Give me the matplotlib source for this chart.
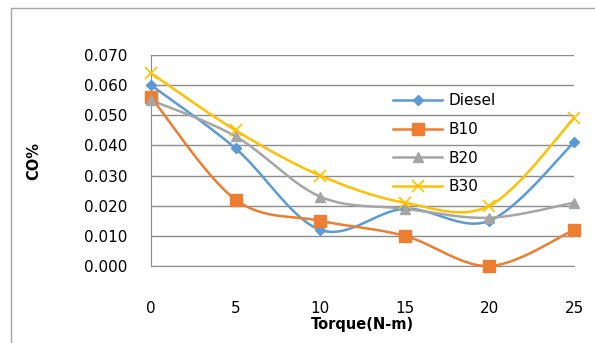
import matplotlib.pyplot as plt
import numpy as np
from matplotlib.patches import Rectangle

torque = [0, 5, 10, 15, 20, 25]
diesel = [0.060, 0.039, 0.012, 0.019, 0.015, 0.041]
b10 = [0.056, 0.022, 0.015, 0.010, 0.000, 0.012]
b20 = [0.055, 0.043, 0.023, 0.019, 0.016, 0.021]
b30 = [0.064, 0.045, 0.030, 0.021, 0.020, 0.049]
yticks = [0.0, 0.01, 0.02, 0.03, 0.04, 0.05, 0.06, 0.07]


def smooth(x, y, n=30):
    # excel-like smoothed line: bezier segments with catmull-rom tangents
    x = np.asarray(x, float)
    y = np.asarray(y, float)
    xs, ys = [], []
    for i in range(len(x) - 1):
        p0 = (x[max(i - 1, 0)], y[max(i - 1, 0)])
        p1 = (x[i], y[i])
        p2 = (x[i + 1], y[i + 1])
        p3 = (x[min(i + 2, len(x) - 1)], y[min(i + 2, len(x) - 1)])
        c1 = (p1[0] + (p2[0] - p0[0]) / 6, p1[1] + (p2[1] - p0[1]) / 6)
        c2 = (p2[0] - (p3[0] - p1[0]) / 6, p2[1] - (p3[1] - p1[1]) / 6)
        t = np.linspace(0, 1, n)
        for k in range(2):
            b = ((1 - t) ** 3 * p1[k] + 3 * (1 - t) ** 2 * t * c1[k]
                 + 3 * (1 - t) * t ** 2 * c2[k] + t ** 3 * p2[k])
            (xs if k == 0 else ys).append(b)
    return np.concatenate(xs), np.concatenate(ys)


fig = plt.figure(figsize=(5.95, 3.43), dpi=100)
fig.patches.append(Rectangle((11 / 595, -0.1), 1.2, 1 - 8 / 343 + 0.1,
                             transform=fig.transFigure, fill=False,
                             edgecolor="#a6a6a6", linewidth=1))
ax = fig.add_axes([151 / 595, 1 - 266 / 343, 423 / 595, 211 / 343])

series = [
    ("Diesel", diesel, "#5b9bd5", "D", 5, 1),
    ("B10", b10, "#ed7d31", "s", 8, 1),
    ("B20", b20, "#a5a5a5", "^", 7, 1),
    ("B30", b30, "#ffc000", "x", 8, 1.2),
]
for name, vals, col, mk, ms, mew in series:
    sx, sy = smooth(torque, vals)
    ax.plot(sx, sy, color=col, linewidth=1.8, clip_on=False, zorder=3)
    ax.plot(torque, vals, linestyle="none", marker=mk, markersize=ms,
            color=col, markeredgewidth=mew, clip_on=False, zorder=4)
    ax.plot([], [], color=col, linewidth=1.8, marker=mk, markersize=ms,
            markeredgewidth=mew, label=name)

ax.set_xlim(0, 25)
ax.set_ylim(0, 0.07)
ax.set_xticks(torque)
ax.set_yticks(yticks)
ax.set_yticklabels(["%.3f" % v for v in yticks])
ax.grid(axis="y", color="#8c8c8c", linewidth=1)
ax.set_axisbelow(True)
for s in ["top", "right"]:
    ax.spines[s].set_visible(False)
ax.spines["left"].set_color("#8c8c8c")
ax.spines["bottom"].set_color("#8c8c8c")
ax.tick_params(length=0, labelsize=11)
ax.tick_params(axis="x", pad=25)
ax.tick_params(axis="y", pad=17)
ax.set_xlabel("Torque(N-m)", fontweight="bold", fontsize=10.5, labelpad=1)
ax.set_ylabel("CO%", fontweight="bold", fontsize=10.5, labelpad=31)

ax.legend(loc="upper left", bbox_to_anchor=(0.555, 0.855), frameon=False,
          fontsize=11, handlelength=3.2, labelspacing=0.9, borderpad=0,
          handletextpad=0.4)

fig.savefig("out.png", dpi=100)
